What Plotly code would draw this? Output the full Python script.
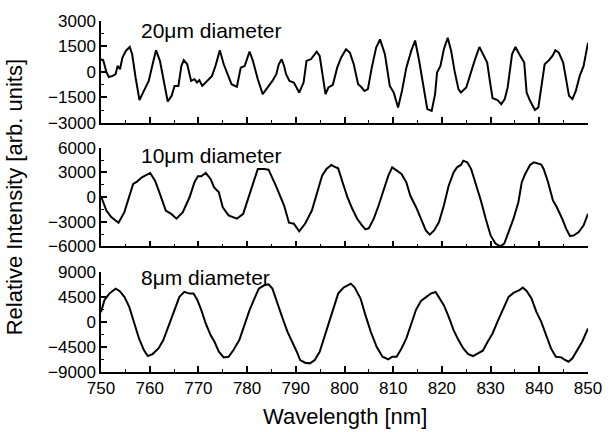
import plotly.graph_objects as go

# ---- data ----
x_20 = [750.0, 750.5, 751.1, 751.6, 752.4, 753.0, 753.4, 753.9, 754.4, 755.1, 755.9, 756.4, 757.1, 757.9, 758.8, 759.8,
        760.6, 761.3, 762.1, 763.0, 763.7, 764.5, 765.1, 765.9, 766.5, 767.0, 767.7, 768.5, 769.2, 769.7, 770.2, 770.8,
        771.8, 772.8, 773.5, 774.4, 775.2, 776.2, 776.8, 777.9, 778.7, 779.5, 780.5, 781.2, 782.2, 783.2, 784.2, 785.2,
        786.0, 786.5, 787.1, 787.6, 788.0, 788.7, 789.6, 790.7, 791.6, 792.2, 793.1, 793.6, 794.3, 794.9, 795.4, 796.1,
        796.7, 797.6, 798.5, 799.3, 800.3, 801.1, 801.9, 802.8, 803.4, 804.1, 804.8, 805.6, 806.5, 807.3, 808.3, 809.3,
        810.1, 811.0, 811.8, 812.7, 813.7, 814.5, 815.3, 816.3, 817.0, 817.9, 818.6, 819.0, 819.7, 820.4, 821.2, 821.9,
        822.6, 823.4, 823.9, 825.0, 825.9, 826.7, 827.7, 828.4, 829.3, 829.9, 830.4, 831.4, 832.2, 832.9, 833.5, 834.4,
        835.1, 835.9, 836.9, 837.4, 838.1, 839.1, 839.8, 840.4, 841.1, 842.0, 842.7, 843.3, 844.0, 844.9, 845.6, 846.1,
        846.8, 847.5, 848.3, 849.1, 850.0]
y_20 = [750, 650, 0, -300, -235, -135, 350, 160, 840, 1235, 1470, 1040, -330, -1665, -1120, -530,
        450, 1275, 650, -825, -1745, -1410, -825, -825, 350, 690, 450, -530, -430, -630, -490, -825,
        -530, -235, 350, 1275, 450, -330, -725, -880, 250, 350, 1195, 650, -430, -1310, -920, -530,
        -135, 450, 745, 350, -135, -530, -630, -1215, -630, 650, 745, 940, 1195, 940, -135, -1310,
        -920, -765, 250, 840, 1335, 1135, 450, -725, -880, -1120, -1020, 250, 1430, 1920, 1040, -825,
        -1215, -2100, -1120, 250, 1235, 1850, 700, -1120, -2195, -2295, -1310, -40, 350, 1335, 2015, 1235,
        60, -1020, -1215, -920, -40, 650, 1470, 1040, 550, -630, -1545, -1665, -1900, -1605, -920, 1040,
        1470, 1040, 550, -1215, -1705, -2250, -2100, -920, 450, 690, 940, 1275, 1135, 550, -530, -1410,
        -1605, -1120, -235, 350, 1725]

x_10 = [750.0, 751.1, 752.1, 753.6, 754.8, 755.8, 756.6, 757.4, 758.4, 760.1, 761.1, 762.1, 763.3, 764.4, 765.5, 766.8,
        768.2, 769.2, 769.9, 770.6, 771.5, 772.5, 773.2, 774.2, 775.0, 776.2, 777.9, 779.2, 780.2, 781.2, 782.2, 783.5,
        784.4, 785.9, 787.6, 788.6, 789.6, 790.7, 791.9, 793.3, 794.3, 795.4, 796.3, 797.3, 797.9, 798.7, 799.6, 800.6,
        801.6, 802.6, 803.6, 804.3, 805.0, 806.0, 807.0, 808.0, 809.0, 809.8, 810.7, 811.7, 812.7, 813.5, 814.7, 815.9,
        816.7, 817.5, 818.4, 819.4, 820.4, 821.4, 822.4, 823.1, 823.9, 824.4, 825.2, 826.0, 827.0, 828.0, 829.0, 830.0,
        831.0, 832.0, 832.8, 833.7, 834.7, 835.7, 836.4, 837.1, 838.1, 838.9, 839.8, 840.4, 840.9, 841.8, 842.8, 843.6,
        844.7, 845.5, 846.3, 847.1, 848.1, 849.1, 850.0]
y_10 = [100, -1640, -2450, -3130, -1840, 0, 1600, 1880, 2400, 2930, 2000, 390, -1640, -2040, -2640, -1840,
        0, 1800, 2520, 2520, 2930, 2200, 1190, 580, -1240, -2240, -2640, -2040, -220, 1800, 3420, 3420,
        3330, 1390, -1030, -3130, -3250, -4180, -3250, -1640, 390, 2600, 3420, 3900, 3700, 3490, 1790, 0,
        -1430, -2640, -3450, -3940, -3780, -2640, -1030, 790, 2600, 3610, 3210, 2810, 1790, 180, -1240, -2850,
        -4060, -4580, -4060, -3050, -1030, 1390, 3000, 3610, 3900, 4420, 4220, 3420, 1600, -420, -2640, -4670,
        -5670, -6000, -5670, -4270, -2640, -630, 1790, 2810, 3900, 4220, 4020, 3940, 3420, 1790, -420, -1240,
        -2640, -3850, -4750, -4670, -4270, -3450, -2040]

x_8 = [750.0, 750.7, 751.7, 753.0, 753.8, 754.8, 755.8, 756.8, 757.8, 758.8, 759.6, 760.6, 761.8, 762.8, 763.9, 765.1,
       766.1, 767.1, 768.2, 769.0, 769.8, 770.6, 771.5, 772.5, 773.3, 774.2, 775.2, 776.2, 777.2, 778.4, 779.5, 780.5,
       781.5, 782.4, 783.5, 784.4, 785.2, 786.2, 787.3, 788.3, 789.3, 790.2, 790.9, 791.9, 792.9, 793.9, 794.9, 795.9,
       796.9, 797.9, 798.7, 799.8, 801.3, 802.1, 803.3, 804.3, 805.4, 806.6, 807.8, 809.0, 809.8, 810.7, 811.7, 812.7,
       813.7, 814.7, 815.7, 816.7, 817.7, 818.7, 819.4, 820.4, 821.4, 822.4, 823.4, 824.4, 825.4, 826.4, 827.4, 828.4,
       829.4, 830.4, 831.4, 832.7, 833.7, 834.7, 835.9, 836.6, 837.4, 838.4, 839.4, 840.4, 841.4, 842.4, 843.4, 844.5,
       845.1, 846.0, 846.8, 847.8, 848.8, 850.0]
y_8 = [1800, 3960, 5160, 6060, 5640, 4560, 2760, -240, -2940, -5040, -6120, -5760, -4740, -3240, -540, 2160,
       4560, 5460, 5160, 5160, 3960, 2160, -240, -2340, -3540, -5340, -6360, -6240, -5040, -3240, -240, 2160,
       4260, 6060, 6660, 6840, 6060, 3360, 660, -1740, -3540, -5340, -6840, -7320, -7440, -6840, -5340, -2600,
       500, 3200, 5160, 6240, 6960, 6240, 4260, 1260, -1740, -4440, -6240, -6720, -6240, -6240, -4740, -2940,
       -240, 2280, 3840, 4440, 5160, 5460, 4560, 3060, 960, -1440, -3240, -4740, -5760, -6120, -5640, -5160,
       -3540, -2040, 60, 2460, 4560, 5280, 5760, 6240, 5640, 4260, 1860, 60, -2340, -4740, -6240, -6360,
       -6720, -7140, -6540, -5040, -3540, -1140]

labels = ["20\u03bcm diameter", "10\u03bcm diameter", "8\u03bcm diameter"]
y_ranges = [[-3000, 3000], [-6000, 6000], [-9000, 9000]]
y_dticks = [1500, 3000, 4500]
x_ticks = [750, 760, 770, 780, 790, 800, 810, 820, 830, 840, 850]

FONT = "Liberation Sans, Arial, sans-serif"
fig = go.Figure()

series = [(x_20, y_20), (x_10, y_10), (x_8, y_8)]
axis_ids = ["", "2", "3"]
domains = [[0.710, 1.0], [0.358, 0.639], [0.0, 0.284]]

for i, (xs, ys) in enumerate(series):
    aid = axis_ids[i]
    fig.add_trace(go.Scatter(x=xs, y=ys, mode="lines",
                             line=dict(color="black", width=2),
                             xaxis="x" + aid, yaxis="y" + aid,
                             hoverinfo="skip", showlegend=False))

common_x = dict(range=[750, 850], tickvals=x_ticks, ticks="inside", ticklen=6, tickwidth=1.5,
                tickcolor="black", showline=True, linecolor="black", linewidth=1.5,
                showgrid=False, zeroline=False, mirror=False, ticklabeloverflow="allow",
                minor=dict(ticks="inside", dtick=5, ticklen=3, tickwidth=1.2, tickcolor="black"),
                tickfont=dict(family=FONT, size=17, color="black"))

layout = dict(width=614, height=432, margin=dict(l=101, r=15, t=20, b=60),
              plot_bgcolor="white", paper_bgcolor="white", showlegend=False)

for i in range(3):
    aid = axis_ids[i]
    xa = dict(common_x)
    xa["anchor"] = "y" + aid
    xa["showticklabels"] = (i == 2)
    if i != 2:
        xa["matches"] = "x3"
    ya = dict(range=y_ranges[i], dtick=y_dticks[i], tick0=0, ticks="inside", ticklen=6, tickwidth=1.5,
              tickcolor="black", showline=True, linecolor="black", linewidth=1.5,
              showgrid=False, zeroline=False, mirror=False, domain=domains[i],
              anchor="x" + aid,
              minor=dict(ticks="inside", dtick=y_dticks[i] / 2, ticklen=3, tickwidth=1.2, tickcolor="black"),
              tickfont=dict(family=FONT, size=17, color="black"))
    layout["xaxis" + aid] = xa
    layout["yaxis" + aid] = ya

fig.update_layout(**layout)

label_y = [0.972, 0.617, 0.268]
for i, txt in enumerate(labels):
    fig.add_annotation(text=txt, xref="paper", yref="paper", x=0.078, y=label_y[i],
                       xanchor="left", yanchor="middle", showarrow=False,
                       font=dict(family=FONT, size=21, color="black"))

fig.add_annotation(text="Wavelength [nm]", xref="paper", yref="paper", x=0.5, y=-0.128,
                   xanchor="center", yanchor="middle", showarrow=False,
                   font=dict(family=FONT, size=22, color="black"))
fig.add_annotation(text="Relative Intensity [arb. units]", xref="paper", yref="paper",
                   x=-0.177, y=0.497, xanchor="center", yanchor="middle", textangle=-90,
                   showarrow=False, font=dict(family=FONT, size=22, color="black"))

fig.write_html("out.html", config={"displayModeBar": False},
               post_script="document.body.style.margin='0';document.body.style.overflow='hidden';")
